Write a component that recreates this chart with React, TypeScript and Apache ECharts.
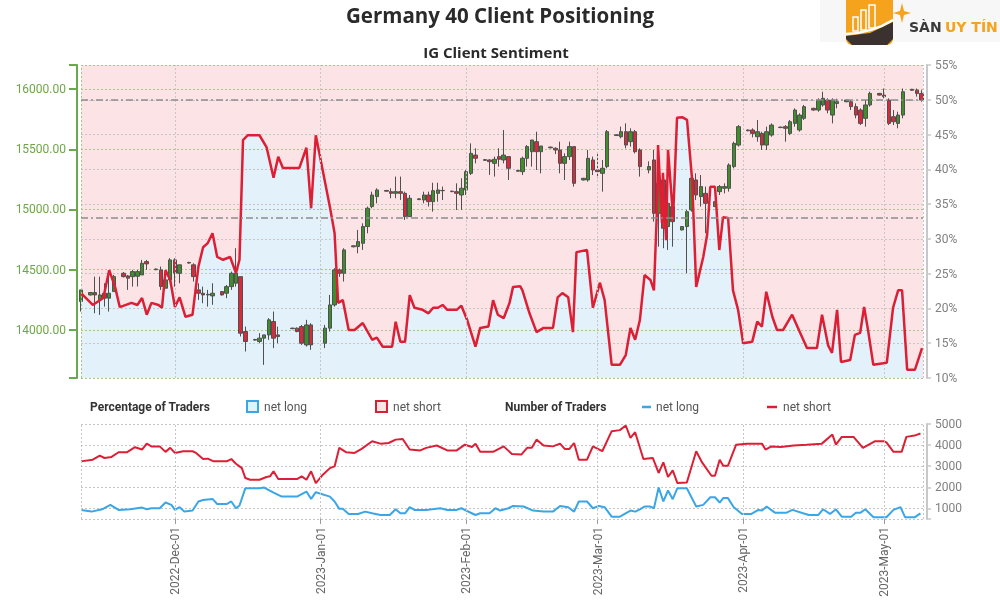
import React, { useEffect, useRef } from 'react';
import * as echarts from 'echarts';

const TITLE = 'Germany 40 Client Positioning';
const SUBTITLE = 'IG Client Sentiment';
const X_MIN = '2022-11-11 00:00';
const X_MAX = '2023-05-09 07:00';
const MONTH_TICKS = ['2022-12-01', '2023-01-01', '2023-02-01', '2023-03-01', '2023-04-01', '2023-05-01'];
const MONTHS = ['Jan', 'Feb', 'Mar', 'Apr', 'May', 'Jun', 'Jul', 'Aug', 'Sep', 'Oct', 'Nov', 'Dec'];
const PRICE_MIN = 13600;
const PRICE_MAX = 16200;
const PRICE_TICKS = [14000, 14500, 15000, 15500, 16000];
const PCT_MIN = 10;
const PCT_MAX = 55;
const PCT_STEP = 5;
const PCT_GUIDES = [50, 33.1];
const COUNT_MIN = 500;
const COUNT_MAX = 5000;
const COUNT_TICKS = [1000, 2000, 3000, 4000, 5000];

// [date, open, close, low, high]
const candles: [string, number, number, number, number][] = [
  ['2022-11-11', 14235, 14332, 14152, 14332], ['2022-11-13', 14290, 14310, 14285, 14315],
  ['2022-11-14', 14310, 14290, 14138, 14442], ['2022-11-15', 14250, 14290, 14124, 14442],
  ['2022-11-16', 14304, 14263, 14193, 14387], ['2022-11-17', 14263, 14304, 14152, 14442],
  ['2022-11-18', 14318, 14442, 14318, 14456], ['2022-11-20', 14470, 14442, 14435, 14480],
  ['2022-11-21', 14448, 14429, 14332, 14456], ['2022-11-22', 14442, 14484, 14359, 14498],
  ['2022-11-23', 14445, 14484, 14360, 14498], ['2022-11-24', 14456, 14553, 14456, 14581],
  ['2022-11-25', 14567, 14548, 14498, 14581], ['2022-11-27', 14505, 14500, 14495, 14510],
  ['2022-11-28', 14498, 14360, 14332, 14526], ['2022-11-29', 14346, 14415, 14346, 14470],
  ['2022-11-30', 14415, 14581, 14401, 14595], ['2022-12-01', 14581, 14470, 14359, 14595],
  ['2022-12-02', 14470, 14540, 14387, 14540], ['2022-12-04', 14560, 14555, 14550, 14565],
  ['2022-12-05', 14540, 14442, 14401, 14553], ['2022-12-06', 14332, 14304, 14249, 14387],
  ['2022-12-07', 14304, 14290, 14221, 14359], ['2022-12-08', 14290, 14295, 14193, 14332],
  ['2022-12-09', 14282, 14304, 14208, 14387], ['2022-12-11', 14318, 14290, 14285, 14322],
  ['2022-12-12', 14304, 14359, 14263, 14373], ['2022-12-13', 14359, 14470, 14332, 14484],
  ['2022-12-14', 14387, 14470, 14359, 14678], ['2022-12-15', 14442, 13972, 13945, 14442],
  ['2022-12-16', 13986, 13903, 13820, 14027], ['2022-12-18', 13920, 13915, 13910, 13925],
  ['2022-12-19', 13903, 13931, 13889, 13972], ['2022-12-20', 13931, 13958, 13709, 13958],
  ['2022-12-21', 13958, 14083, 13917, 14097], ['2022-12-22', 14069, 13931, 13848, 14152],
  ['2022-12-23', 13958, 13944, 13889, 14027], ['2022-12-26', 14014, 14010, 14005, 14018],
  ['2022-12-27', 14014, 13986, 13980, 14020], ['2022-12-28', 14027, 13889, 13875, 14041],
  ['2022-12-29', 13875, 14041, 13861, 14083], ['2022-12-30', 14041, 13875, 13834, 14055],
  ['2023-01-02', 13889, 14014, 13848, 14041], ['2023-01-03', 14014, 14207, 13986, 14290],
  ['2023-01-04', 14207, 14498, 14193, 14512], ['2023-01-05', 14498, 14470, 14440, 14510],
  ['2023-01-06', 14470, 14664, 14401, 14678], ['2023-01-08', 14698, 14690, 14685, 14702],
  ['2023-01-09', 14692, 14733, 14636, 14830], ['2023-01-10', 14719, 14858, 14664, 14885],
  ['2023-01-11', 14858, 15010, 14802, 15024], ['2023-01-12', 15024, 15120, 15010, 15148],
  ['2023-01-13', 15107, 15162, 15051, 15176], ['2023-01-15', 15158, 15152, 15148, 15162],
  ['2023-01-16', 15148, 15134, 15093, 15176], ['2023-01-17', 15134, 15148, 15093, 15273],
  ['2023-01-18', 15148, 15134, 15079, 15273], ['2023-01-19', 15134, 14941, 14913, 15148],
  ['2023-01-20', 14941, 15093, 14941, 15120], ['2023-01-22', 15088, 15082, 15078, 15092],
  ['2023-01-23', 15079, 15120, 15051, 15148], ['2023-01-24', 15120, 15065, 15024, 15148],
  ['2023-01-25', 15065, 15156, 14982, 15222], ['2023-01-26', 15134, 15162, 15065, 15222],
  ['2023-01-27', 15156, 15158, 15079, 15190], ['2023-01-29', 15152, 15148, 15144, 15156],
  ['2023-01-30', 15148, 15134, 14996, 15217], ['2023-01-31', 15120, 15176, 14996, 15259],
  ['2023-02-01', 15162, 15314, 15120, 15328], ['2023-02-02', 15300, 15466, 15286, 15549],
  ['2023-02-03', 15452, 15425, 15383, 15508], ['2023-02-05', 15414, 15408, 15404, 15418],
  ['2023-02-06', 15411, 15397, 15287, 15417], ['2023-02-07', 15383, 15417, 15273, 15439],
  ['2023-02-08', 15439, 15417, 15356, 15508], ['2023-02-09', 15411, 15452, 15383, 15660],
  ['2023-02-10', 15439, 15342, 15245, 15439], ['2023-02-12', 15324, 15318, 15314, 15328],
  ['2023-02-13', 15314, 15425, 15286, 15439], ['2023-02-14', 15425, 15522, 15356, 15535],
  ['2023-02-15', 15480, 15577, 15356, 15577], ['2023-02-16', 15563, 15480, 15328, 15646],
  ['2023-02-17', 15480, 15527, 15300, 15527], ['2023-02-19', 15518, 15512, 15508, 15522],
  ['2023-02-20', 15508, 15494, 15460, 15516], ['2023-02-21', 15494, 15383, 15300, 15563],
  ['2023-02-22', 15383, 15439, 15245, 15466], ['2023-02-23', 15439, 15522, 15411, 15563],
  ['2023-02-24', 15522, 15217, 15190, 15522], ['2023-02-26', 15245, 15259, 15240, 15262],
  ['2023-02-27', 15245, 15425, 15231, 15494], ['2023-02-28', 15411, 15328, 15286, 15439],
  ['2023-03-01', 15328, 15314, 15259, 15466], ['2023-03-02', 15300, 15342, 15148, 15411],
  ['2023-03-03', 15356, 15646, 15342, 15660], ['2023-03-05', 15620, 15614, 15610, 15624],
  ['2023-03-06', 15604, 15646, 15591, 15688], ['2023-03-07', 15646, 15535, 15508, 15715],
  ['2023-03-08', 15563, 15646, 15522, 15674], ['2023-03-09', 15646, 15480, 15466, 15660],
  ['2023-03-10', 15494, 15356, 15273, 15508], ['2023-03-12', 15328, 15356, 15300, 15400],
  ['2023-03-13', 15411, 14968, 14899, 15494], ['2023-03-14', 14968, 15217, 14691, 15273],
  ['2023-03-15', 15245, 14844, 14678, 15259], ['2023-03-16', 14858, 15051, 14664, 15065],
  ['2023-03-17', 15024, 14899, 14691, 15051], ['2023-03-19', 14830, 14858, 14825, 14862],
  ['2023-03-20', 14858, 14982, 14470, 14996], ['2023-03-21', 14996, 15259, 14982, 15300],
  ['2023-03-22', 15245, 15120, 15079, 15300], ['2023-03-23', 15107, 15190, 15024, 15286],
  ['2023-03-24', 15134, 15051, 14802, 15190], ['2023-03-26', 15024, 15065, 15020, 15068],
  ['2023-03-27', 15148, 15190, 15120, 15203], ['2023-03-28', 15176, 15190, 15134, 15217],
  ['2023-03-29', 15176, 15369, 15148, 15383], ['2023-03-30', 15356, 15549, 15342, 15563],
  ['2023-03-31', 15535, 15688, 15522, 15701], ['2023-04-02', 15660, 15654, 15650, 15664],
  ['2023-04-03', 15660, 15632, 15599, 15674], ['2023-04-04', 15604, 15646, 15563, 15743],
  ['2023-04-05', 15632, 15535, 15494, 15646], ['2023-04-06', 15535, 15646, 15494, 15688],
  ['2023-04-07', 15618, 15701, 15604, 15715], ['2023-04-09', 15684, 15680, 15676, 15688],
  ['2023-04-10', 15688, 15674, 15563, 15701], ['2023-04-11', 15632, 15729, 15618, 15743],
  ['2023-04-12', 15715, 15826, 15688, 15840], ['2023-04-13', 15660, 15784, 15646, 15799],
  ['2023-04-14', 15757, 15854, 15743, 15868], ['2023-04-16', 15840, 15826, 15820, 15845],
  ['2023-04-17', 15826, 15909, 15812, 15923], ['2023-04-18', 15868, 15923, 15854, 15978],
  ['2023-04-19', 15909, 15826, 15799, 15923], ['2023-04-20', 15784, 15909, 15715, 15923],
  ['2023-04-21', 15880, 15895, 15840, 15920], ['2023-04-23', 15895, 15909, 15890, 15912],
  ['2023-04-24', 15895, 15854, 15826, 15909], ['2023-04-25', 15854, 15784, 15757, 15881],
  ['2023-04-26', 15826, 15715, 15701, 15840], ['2023-04-27', 15757, 15868, 15688, 15909],
  ['2023-04-28', 15868, 15964, 15854, 15978], ['2023-04-30', 15964, 15950, 15946, 15968],
  ['2023-05-01', 15950, 15937, 15923, 16005], ['2023-05-02', 15909, 15715, 15701, 15923],
  ['2023-05-03', 15770, 15729, 15701, 15826], ['2023-05-04', 15715, 15784, 15674, 15812],
  ['2023-05-05', 15784, 15978, 15757, 16005], ['2023-05-07', 15998, 15990, 15986, 16002],
  ['2023-05-08', 15991, 15964, 15937, 16005], ['2023-05-09', 15964, 15909, 15895, 15991],
];

// % of traders net long
const pctLong: [string, number][] = [
  ['2022-11-11 00:00', 22.2], ['2022-11-13 12:00', 20.5], ['2022-11-15 18:00', 21.5], ['2022-11-17 00:00', 25.5],
  ['2022-11-18 06:00', 23.1], ['2022-11-19 06:00', 20.2], ['2022-11-21 18:00', 20.8], ['2022-11-23 00:00', 20.5],
  ['2022-11-24 00:00', 21.5], ['2022-11-25 00:00', 19.1], ['2022-11-26 00:00', 20.8], ['2022-11-27 12:00', 20.5],
  ['2022-11-28 06:00', 20.1], ['2022-11-29 00:00', 25.5], ['2022-11-30 00:00', 24.1], ['2022-12-01 00:00', 20.2],
  ['2022-12-02 00:00', 21.6], ['2022-12-03 06:00', 18.8], ['2022-12-04 18:00', 19.1], ['2022-12-06 00:00', 26.0],
  ['2022-12-07 00:00', 28.8], ['2022-12-08 00:00', 29.4], ['2022-12-09 00:00', 30.8], ['2022-12-10 00:00', 27.4],
  ['2022-12-11 06:00', 27.0], ['2022-12-12 18:00', 27.4], ['2022-12-14 00:00', 25.1], ['2022-12-14 18:00', 27.0],
  ['2022-12-15 12:00', 44.2], ['2022-12-16 12:00', 44.9], ['2022-12-19 00:00', 44.9], ['2022-12-20 12:00', 43.2],
  ['2022-12-22 00:00', 38.8], ['2022-12-23 00:00', 41.8], ['2022-12-24 00:00', 40.2], ['2022-12-27 12:00', 40.2],
  ['2022-12-29 00:00', 43.1], ['2022-12-30 00:00', 34.4], ['2022-12-31 00:00', 44.9], ['2023-01-03 00:00', 34.6],
  ['2023-01-04 00:00', 30.8], ['2023-01-04 18:00', 20.8], ['2023-01-05 18:00', 21.2], ['2023-01-07 00:00', 16.9],
  ['2023-01-08 06:00', 16.9], ['2023-01-10 00:00', 17.9], ['2023-01-12 00:00', 15.5], ['2023-01-13 00:00', 15.8],
  ['2023-01-14 06:00', 14.5], ['2023-01-16 06:00', 14.5], ['2023-01-17 00:00', 18.1], ['2023-01-18 00:00', 15.2],
  ['2023-01-19 00:00', 15.2], ['2023-01-20 00:00', 21.9], ['2023-01-21 00:00', 20.1], ['2023-01-22 18:00', 19.8],
  ['2023-01-24 00:00', 19.3], ['2023-01-25 00:00', 20.1], ['2023-01-26 00:00', 20.1], ['2023-01-27 00:00', 20.5],
  ['2023-01-28 00:00', 19.8], ['2023-01-30 00:00', 19.8], ['2023-01-31 00:00', 20.4], ['2023-02-01 06:00', 18.3],
  ['2023-02-03 00:00', 14.5], ['2023-02-04 00:00', 17.2], ['2023-02-05 18:00', 17.4], ['2023-02-06 18:00', 21.2],
  ['2023-02-07 18:00', 19.1], ['2023-02-09 00:00', 18.6], ['2023-02-10 06:00', 20.8], ['2023-02-11 00:00', 23.1],
  ['2023-02-12 12:00', 23.2], ['2023-02-13 00:00', 22.6], ['2023-02-14 12:00', 19.3], ['2023-02-16 00:00', 16.6],
  ['2023-02-17 12:00', 17.2], ['2023-02-19 12:00', 17.2], ['2023-02-20 12:00', 21.6], ['2023-02-21 12:00', 22.2],
  ['2023-02-22 18:00', 21.6], ['2023-02-23 18:00', 16.6], ['2023-02-24 12:00', 28.1], ['2023-02-26 18:00', 28.4],
  ['2023-02-28 00:00', 20.1], ['2023-03-01 12:00', 23.7], ['2023-03-02 12:00', 21.2], ['2023-03-04 00:00', 11.9],
  ['2023-03-05 18:00', 11.9], ['2023-03-07 00:00', 13.3], ['2023-03-08 00:00', 17.2], ['2023-03-09 00:00', 15.5],
  ['2023-03-10 00:00', 18.3], ['2023-03-11 00:00', 24.8], ['2023-03-12 06:00', 24.1], ['2023-03-13 00:00', 22.6],
  ['2023-03-13 16:00', 34.6], ['2023-03-13 21:00', 43.5], ['2023-03-14 17:00', 32.3], ['2023-03-14 22:00', 39.5],
  ['2023-03-15 14:00', 29.8], ['2023-03-16 00:00', 42.8], ['2023-03-17 02:00', 33.1], ['2023-03-17 22:00', 47.4],
  ['2023-03-19 00:00', 47.5], ['2023-03-20 01:00', 47.1], ['2023-03-21 03:00', 38.5], ['2023-03-22 00:00', 23.1],
  ['2023-03-23 12:00', 27.4], ['2023-03-24 08:00', 30.6], ['2023-03-25 00:00', 37.5], ['2023-03-26 00:00', 37.5],
  ['2023-03-26 22:00', 28.4], ['2023-03-27 17:00', 33.1], ['2023-03-28 19:00', 33.0], ['2023-03-29 20:00', 22.6],
  ['2023-03-30 22:00', 19.8], ['2023-04-01 00:00', 15.0], ['2023-04-02 22:00', 15.2], ['2023-04-04 00:00', 18.1],
  ['2023-04-05 00:00', 17.4], ['2023-04-05 22:00', 22.4], ['2023-04-07 05:00', 18.8], ['2023-04-08 05:00', 16.9],
  ['2023-04-09 12:00', 16.9], ['2023-04-11 10:00', 19.1], ['2023-04-13 03:00', 16.5], ['2023-04-14 14:00', 14.3],
  ['2023-04-16 17:00', 14.3], ['2023-04-17 19:00', 19.1], ['2023-04-19 02:00', 14.7], ['2023-04-19 22:00', 13.6],
  ['2023-04-21 00:00', 19.8], ['2023-04-21 20:00', 12.3], ['2023-04-23 19:00', 12.6], ['2023-04-24 19:00', 16.2],
  ['2023-04-25 22:00', 16.5], ['2023-04-26 18:00', 20.2], ['2023-04-27 14:00', 16.9], ['2023-04-28 17:00', 11.9],
  ['2023-05-01 14:00', 12.2], ['2023-05-02 22:00', 20.1], ['2023-05-04 00:00', 22.6], ['2023-05-04 20:00', 22.6],
  ['2023-05-05 22:00', 11.2], ['2023-05-07 14:00', 11.2], ['2023-05-09 02:00', 14.3],
];

// number of traders net short
const countShort: [string, number][] = [
  ['2022-11-11 00:00', 3230], ['2022-11-13 12:00', 3310], ['2022-11-15 00:00', 3500], ['2022-11-16 00:00', 3390],
  ['2022-11-17 12:00', 3440], ['2022-11-19 00:00', 3660], ['2022-11-20 18:00', 3660], ['2022-11-22 12:00', 3900],
  ['2022-11-24 00:00', 3790], ['2022-11-25 00:00', 4070], ['2022-11-26 00:00', 3940], ['2022-11-27 18:00', 3940],
  ['2022-11-29 00:00', 3680], ['2022-11-30 00:00', 3870], ['2022-12-01 00:00', 3630], ['2022-12-02 18:00', 3710],
  ['2022-12-04 18:00', 3710], ['2022-12-05 12:00', 3630], ['2022-12-07 00:00', 3340], ['2022-12-08 00:00', 3360],
  ['2022-12-09 06:00', 3230], ['2022-12-12 00:00', 3230], ['2022-12-13 00:00', 3340], ['2022-12-14 00:00', 3120],
  ['2022-12-15 06:00', 2910], ['2022-12-16 00:00', 2440], ['2022-12-17 00:00', 2360], ['2022-12-19 00:00', 2360],
  ['2022-12-20 12:00', 2490], ['2022-12-21 06:00', 2520], ['2022-12-22 00:00', 2760], ['2022-12-23 00:00', 2390],
  ['2022-12-27 00:00', 2390], ['2022-12-28 00:00', 2520], ['2022-12-29 00:00', 2360], ['2022-12-30 00:00', 2760],
  ['2022-12-31 00:00', 2200], ['2023-01-01 12:00', 2600], ['2023-01-03 00:00', 2910], ['2023-01-04 00:00', 2990],
  ['2023-01-05 00:00', 3870], ['2023-01-06 12:00', 3660], ['2023-01-08 06:00', 3630], ['2023-01-09 18:00', 3820],
  ['2023-01-12 00:00', 4180], ['2023-01-13 18:00', 4070], ['2023-01-15 12:00', 4100], ['2023-01-17 00:00', 4260],
  ['2023-01-18 12:00', 4290], ['2023-01-20 00:00', 3790], ['2023-01-22 06:00', 3750], ['2023-01-23 12:00', 3870],
  ['2023-01-25 18:00', 3980], ['2023-01-28 00:00', 3750], ['2023-01-30 00:00', 3750], ['2023-01-31 18:00', 4020],
  ['2023-02-02 06:00', 3910], ['2023-02-03 00:00', 4060], ['2023-02-04 00:00', 3680], ['2023-02-06 18:00', 3680],
  ['2023-02-09 00:00', 3940], ['2023-02-10 18:00', 3580], ['2023-02-12 18:00', 3550], ['2023-02-14 00:00', 3870],
  ['2023-02-15 00:00', 3870], ['2023-02-16 00:00', 4260], ['2023-02-17 12:00', 3980], ['2023-02-19 12:00', 3940],
  ['2023-02-21 00:00', 4070], ['2023-02-22 00:00', 3820], ['2023-02-23 00:00', 3820], ['2023-02-24 00:00', 4100],
  ['2023-02-25 00:00', 3310], ['2023-02-26 18:00', 3310], ['2023-02-28 00:00', 3940], ['2023-03-02 00:00', 3710],
  ['2023-03-04 00:00', 4660], ['2023-03-05 18:00', 4710], ['2023-03-07 00:00', 4930], ['2023-03-08 00:00', 4340],
  ['2023-03-09 00:00', 4610], ['2023-03-10 18:00', 3340], ['2023-03-12 18:00', 3390], ['2023-03-14 00:00', 2680],
  ['2023-03-15 00:00', 3180], ['2023-03-16 00:00', 2490], ['2023-03-17 00:00', 2800], ['2023-03-18 00:00', 2200],
  ['2023-03-20 00:00', 2230], ['2023-03-22 00:00', 3710], ['2023-03-23 06:00', 3180], ['2023-03-25 06:00', 2550],
  ['2023-03-26 00:00', 2550], ['2023-03-27 00:00', 3310], ['2023-03-27 18:00', 3020], ['2023-03-28 18:00', 3020],
  ['2023-03-30 12:00', 4020], ['2023-04-01 18:00', 4070], ['2023-04-05 00:00', 4070], ['2023-04-05 18:00', 3790],
  ['2023-04-07 00:00', 3940], ['2023-04-09 00:00', 3910], ['2023-04-11 18:00', 3980], ['2023-04-14 12:00', 4020],
  ['2023-04-17 18:00', 4070], ['2023-04-20 00:00', 4500], ['2023-04-20 18:00', 4020], ['2023-04-22 00:00', 4390],
  ['2023-04-24 12:00', 4390], ['2023-04-26 12:00', 3870], ['2023-04-29 00:00', 4180], ['2023-05-01 00:00', 4180],
  ['2023-05-01 12:00', 4130], ['2023-05-03 00:00', 3680], ['2023-05-04 18:00', 3680], ['2023-05-05 18:00', 4390],
  ['2023-05-07 12:00', 4450], ['2023-05-08 18:00', 4550],
];

// number of traders net long
const countLong: [string, number][] = [
  ['2022-11-11 00:00', 930], ['2022-11-13 06:00', 850], ['2022-11-15 12:00', 960], ['2022-11-17 06:00', 1170],
  ['2022-11-19 00:00', 930], ['2022-11-21 12:00', 960], ['2022-11-24 00:00', 1040], ['2022-11-25 00:00', 960],
  ['2022-11-26 00:00', 1010], ['2022-11-27 18:00', 1010], ['2022-11-29 00:00', 1280], ['2022-11-30 06:00', 1170],
  ['2022-12-01 00:00', 930], ['2022-12-02 00:00', 1060], ['2022-12-03 00:00', 850], ['2022-12-04 18:00', 900],
  ['2022-12-06 00:00', 1330], ['2022-12-07 00:00', 1400], ['2022-12-09 00:00', 1450], ['2022-12-10 00:00', 1210],
  ['2022-12-12 00:00', 1210], ['2022-12-13 00:00', 1330], ['2022-12-14 00:00', 1010], ['2022-12-14 18:00', 1140],
  ['2022-12-16 00:00', 1960], ['2022-12-19 00:00', 1960], ['2022-12-20 00:00', 1990], ['2022-12-22 00:00', 1750],
  ['2022-12-23 18:00', 1560], ['2022-12-27 00:00', 1560], ['2022-12-29 00:00', 1800], ['2022-12-30 00:00', 1450],
  ['2022-12-31 00:00', 1770], ['2023-01-03 00:00', 1560], ['2023-01-04 00:00', 1330], ['2023-01-05 00:00', 980],
  ['2023-01-05 18:00', 980], ['2023-01-07 00:00', 740], ['2023-01-09 00:00', 740], ['2023-01-10 12:00', 850],
  ['2023-01-12 00:00', 770], ['2023-01-13 18:00', 690], ['2023-01-15 18:00', 690], ['2023-01-17 00:00', 960],
  ['2023-01-18 00:00', 770], ['2023-01-19 00:00', 770], ['2023-01-20 00:00', 1060], ['2023-01-21 00:00', 930],
  ['2023-01-23 12:00', 930], ['2023-01-26 12:00', 1010], ['2023-01-28 00:00', 930], ['2023-01-30 00:00', 930],
  ['2023-01-31 00:00', 1010], ['2023-02-03 00:00', 690], ['2023-02-04 00:00', 770], ['2023-02-06 00:00', 770],
  ['2023-02-07 06:00', 1010], ['2023-02-08 06:00', 900], ['2023-02-10 00:00', 1010], ['2023-02-11 00:00', 1120],
  ['2023-02-13 06:00', 1090], ['2023-02-15 06:00', 900], ['2023-02-17 12:00', 850], ['2023-02-19 12:00', 850],
  ['2023-02-21 00:00', 1120], ['2023-02-22 18:00', 1060], ['2023-02-24 00:00', 850], ['2023-02-25 00:00', 1330],
  ['2023-02-26 18:00', 1330], ['2023-02-28 00:00', 1010], ['2023-03-01 06:00', 1120], ['2023-03-02 12:00', 1060],
  ['2023-03-04 00:00', 610], ['2023-03-05 18:00', 610], ['2023-03-08 00:00', 900], ['2023-03-09 00:00', 850],
  ['2023-03-10 00:00', 960], ['2023-03-11 00:00', 1090], ['2023-03-12 06:00', 1090], ['2023-03-13 00:00', 1010],
  ['2023-03-14 00:00', 1990], ['2023-03-15 00:00', 1330], ['2023-03-16 00:00', 1850], ['2023-03-17 00:00', 1440],
  ['2023-03-18 00:00', 1960], ['2023-03-20 00:00', 1960], ['2023-03-22 00:00', 1090], ['2023-03-23 12:00', 1170],
  ['2023-03-25 00:00', 1530], ['2023-03-26 00:00', 1530], ['2023-03-27 00:00', 1280], ['2023-03-27 18:00', 1490],
  ['2023-03-28 18:00', 1490], ['2023-03-30 00:00', 1060], ['2023-03-31 18:00', 740], ['2023-04-02 18:00', 740],
  ['2023-04-04 06:00', 930], ['2023-04-05 00:00', 900], ['2023-04-06 00:00', 1090], ['2023-04-07 18:00', 800],
  ['2023-04-10 06:00', 800], ['2023-04-11 12:00', 930], ['2023-04-13 18:00', 770], ['2023-04-15 00:00', 690],
  ['2023-04-17 00:00', 690], ['2023-04-18 00:00', 960], ['2023-04-19 12:00', 740], ['2023-04-20 18:00', 960],
  ['2023-04-22 00:00', 610], ['2023-04-24 00:00', 610], ['2023-04-25 00:00', 800], ['2023-04-26 00:00', 800],
  ['2023-04-27 00:00', 960], ['2023-04-28 18:00', 580], ['2023-05-01 12:00', 580], ['2023-05-03 00:00', 930],
  ['2023-05-04 12:00', 1060], ['2023-05-05 12:00', 580], ['2023-05-07 12:00', 580], ['2023-05-08 18:00', 770],
];

const ts = (s: string): number => {
  const [d, t] = s.split(' ');
  const [y, m, dd] = d.split('-').map(Number);
  const [h, mi] = (t || '00:00').split(':').map(Number);
  return new Date(y, m - 1, dd, h, mi).getTime();
};

const fmtDate = (v: number) => {
  const d = new Date(v);
  return `${d.getFullYear()}-${MONTHS[d.getMonth()]}-${String(d.getDate()).padStart(2, '0')}`;
};

const C_RED = '#dc1f35';
const C_BLUE = '#3aa6e6';
const C_PINK = '#fce4e6';
const C_LIGHTBLUE = '#e3f1fb';
const C_GREEN_AXIS = '#6aa84f';
const C_GRID_GREEN = '#a9c48c';
const C_GRID_GRAY = '#c6c6c6';

export default function App() {
  const ref = useRef<HTMLDivElement>(null);

  useEffect(() => {
    if (!ref.current) return;
    const chart = echarts.init(ref.current, undefined, { renderer: 'svg' });
    const tMin = ts(X_MIN);
    const tMax = ts(X_MAX);
    const monthTs = MONTH_TICKS.map(ts);

    const vLines = (edgeColor: string) => [
      ...monthTs.map((v) => ({ xAxis: v })),
      { xAxis: tMin, lineStyle: { color: edgeColor } },
      { xAxis: tMax, lineStyle: { color: C_GRID_GRAY } },
    ];

    const option: any = {
      animation: false,
      textStyle: { fontFamily: 'Roboto' },
      grid: [
        { left: 81, right: 77, top: 65, height: 313, show: true, backgroundColor: C_PINK, borderWidth: 0 },
        { left: 81, right: 77, top: 424, height: 95, show: false },
      ],
      xAxis: [
        {
          type: 'value', gridIndex: 0, min: tMin, max: tMax,
          axisLine: { show: false }, axisTick: { show: false }, axisLabel: { show: false }, splitLine: { show: false },
        },
        {
          type: 'value', gridIndex: 1, min: tMin, max: tMax,
          axisLine: { show: false },
          axisTick: { show: true, length: 5, lineStyle: { color: '#9a9a9a' }, customValues: monthTs },
          axisLabel: { rotate: 90, margin: 8, color: '#666', fontSize: 12, customValues: monthTs, formatter: fmtDate },
          splitLine: { show: false },
        },
      ],
      yAxis: [
        {
          type: 'value', gridIndex: 0, position: 'left', offset: 4, min: PRICE_MIN, max: PRICE_MAX, z: 2,
          axisLine: { show: true, lineStyle: { color: C_GREEN_AXIS, width: 2 } },
          axisTick: {
            show: true, length: 8, lineStyle: { color: C_GREEN_AXIS, width: 2 },
            customValues: [PRICE_MIN, ...PRICE_TICKS, PRICE_MAX],
          },
          axisLabel: {
            customValues: PRICE_TICKS, formatter: (v: number) => v.toFixed(2),
            color: '#6ea648', fontSize: 12, margin: 11,
          },
          splitLine: { show: true, lineStyle: { color: C_GRID_GREEN, type: [2, 2], width: 1 } },
        },
        {
          type: 'value', gridIndex: 0, position: 'right', offset: 4, min: PCT_MIN, max: PCT_MAX, interval: PCT_STEP, z: 2,
          axisLine: { show: true, lineStyle: { color: '#c8c8c8', width: 2 } },
          axisTick: { show: true, length: 4, lineStyle: { color: '#c8c8c8', width: 1.5 } },
          axisLabel: { formatter: '{value}%', color: '#808080', fontSize: 12, margin: 8 },
          splitLine: { show: true, showMinLine: false, showMaxLine: false, lineStyle: { color: C_GRID_GRAY, type: [2, 2], width: 1 } },
        },
        {
          type: 'value', gridIndex: 1, position: 'right', offset: 4, min: COUNT_MIN, max: COUNT_MAX, z: 2,
          axisLine: { show: true, lineStyle: { color: '#c8c8c8', width: 2 } },
          axisTick: { show: true, length: 4, lineStyle: { color: '#c8c8c8', width: 1.5 }, customValues: [COUNT_MIN, ...COUNT_TICKS] },
          axisLabel: { customValues: COUNT_TICKS, formatter: (v: number) => String(v), color: '#808080', fontSize: 12, margin: 8 },
          splitLine: { show: true, lineStyle: { color: C_GRID_GRAY, type: [2, 2], width: 1 } },
        },
      ],
      series: [
        {
          name: 'area', type: 'line', xAxisIndex: 0, yAxisIndex: 1, z: 1, silent: true,
          data: pctLong.map(([d, v]) => [ts(d), v]),
          symbol: 'none', lineStyle: { width: 0 },
          areaStyle: { color: C_LIGHTBLUE, opacity: 1, origin: 'start' },
        },
        {
          name: 'guides', type: 'line', xAxisIndex: 0, yAxisIndex: 1, z: 2, silent: true,
          data: [[tMin, PCT_MIN]], symbol: 'none', lineStyle: { width: 0 },
          markLine: {
            silent: true, symbol: 'none', label: { show: false }, animation: false,
            lineStyle: { color: C_GRID_GRAY, type: [2, 2], width: 1 },
            data: [
              ...vLines(C_GRID_GREEN),
              ...PCT_GUIDES.map((v) => ({ yAxis: v, lineStyle: { color: '#8c8c8c', type: [7, 3, 2, 3], width: 1.5 } })),
            ],
          },
        },
        {
          name: 'price', type: 'candlestick', xAxisIndex: 0, yAxisIndex: 0, z: 3,
          data: candles.map(([d, o, c, l, h]) => [ts(d), o, c, l, h]),
          encode: { x: 0, y: [1, 2, 3, 4] },
          barWidth: 4,
          itemStyle: { color: '#3e8e2b', color0: '#d92a3b', borderColor: '#505050', borderColor0: '#505050', borderWidth: 1 },
        },
        {
          name: 'pct long', type: 'line', xAxisIndex: 0, yAxisIndex: 1, z: 4,
          data: pctLong.map(([d, v]) => [ts(d), v]),
          symbol: 'none', lineStyle: { color: C_RED, width: 2.5 },
        },
        {
          name: 'guides2', type: 'line', xAxisIndex: 1, yAxisIndex: 2, z: 2, silent: true,
          data: [[tMin, COUNT_MIN]], symbol: 'none', lineStyle: { width: 0 },
          markLine: {
            silent: true, symbol: 'none', label: { show: false }, animation: false,
            lineStyle: { color: C_GRID_GRAY, type: [2, 2], width: 1 },
            data: vLines(C_GRID_GRAY),
          },
        },
        {
          name: 'count short', type: 'line', xAxisIndex: 1, yAxisIndex: 2, z: 4,
          data: countShort.map(([d, v]) => [ts(d), v]),
          symbol: 'none', lineStyle: { color: C_RED, width: 2 },
        },
        {
          name: 'count long', type: 'line', xAxisIndex: 1, yAxisIndex: 2, z: 4,
          data: countLong.map(([d, v]) => [ts(d), v]),
          symbol: 'none', lineStyle: { color: C_BLUE, width: 2 },
        },
      ],
      graphic: [
        { type: 'text', x: 500, y: 15, style: { text: TITLE, fontFamily: 'Open Sans', fontWeight: 'bold', fontSize: 20.5, fill: '#2a2a2a', align: 'center', verticalAlign: 'middle' } },
        { type: 'text', x: 496, y: 52, style: { text: SUBTITLE, fontFamily: 'Open Sans', fontWeight: 'bold', fontSize: 15, fill: '#2a2a2a', align: 'center', verticalAlign: 'middle' } },
        { type: 'text', x: 90, y: 407, style: { text: 'Percentage of Traders', fontFamily: 'Roboto', fontWeight: 'bold', fontSize: 12, fill: '#333', verticalAlign: 'middle' } },
        { type: 'rect', shape: { x: 247, y: 401, width: 11, height: 11 }, style: { fill: C_LIGHTBLUE, stroke: C_BLUE, lineWidth: 2 } },
        { type: 'text', x: 264, y: 407, style: { text: 'net long', fontFamily: 'Roboto', fontSize: 12, fill: '#555', verticalAlign: 'middle' } },
        { type: 'rect', shape: { x: 376, y: 401, width: 11, height: 11 }, style: { fill: C_PINK, stroke: C_RED, lineWidth: 2 } },
        { type: 'text', x: 393, y: 407, style: { text: 'net short', fontFamily: 'Roboto', fontSize: 12, fill: '#555', verticalAlign: 'middle' } },
        { type: 'text', x: 505, y: 407, style: { text: 'Number of Traders', fontFamily: 'Roboto', fontWeight: 'bold', fontSize: 12, fill: '#333', verticalAlign: 'middle' } },
        { type: 'line', shape: { x1: 642, y1: 407, x2: 651, y2: 407 }, style: { stroke: C_BLUE, lineWidth: 2.5 } },
        { type: 'text', x: 656, y: 407, style: { text: 'net long', fontFamily: 'Roboto', fontSize: 12, fill: '#555', verticalAlign: 'middle' } },
        { type: 'line', shape: { x1: 767, y1: 407, x2: 777, y2: 407 }, style: { stroke: C_RED, lineWidth: 2.5 } },
        { type: 'text', x: 783, y: 407, style: { text: 'net short', fontFamily: 'Roboto', fontSize: 12, fill: '#555', verticalAlign: 'middle' } },
        { type: 'rect', shape: { x: 820, y: 0, width: 180, height: 42 }, style: { fill: '#f7f7f7' } },
        { type: 'rect', shape: { x: 846, y: -6, width: 47, height: 51, r: 6 }, style: { fill: '#f5a21c' } },
        { type: 'polygon', shape: { points: [[846, 36], [870, 33], [893, 22], [893, 39], [887, 45], [852, 45], [846, 39]] }, style: { fill: '#3b3230' } },
        { type: 'bezierCurve', shape: { x1: 846, y1: 34, cpx1: 872, cpy1: 33, x2: 893, y2: 20 }, style: { stroke: '#ffffff', lineWidth: 2.5, fill: 'none' } },
        { type: 'rect', shape: { x: 853, y: 17, width: 5, height: 14 }, style: { fill: 'none', stroke: '#fff', lineWidth: 1.5 } },
        { type: 'rect', shape: { x: 861, y: 10, width: 5, height: 20 }, style: { fill: 'none', stroke: '#fff', lineWidth: 1.5 } },
        { type: 'rect', shape: { x: 869, y: 5, width: 6, height: 23 }, style: { fill: 'none', stroke: '#fff', lineWidth: 1.5 } },
        { type: 'polygon', shape: { points: [[902, 3], [904, 11], [911, 13], [904, 15], [902, 23], [900, 15], [893, 13], [900, 11]] }, style: { fill: '#f5a21c' } },
        {
          type: 'text', x: 909, y: 27,
          style: {
            text: '{a|SÀN} {b|UY TÍN}', verticalAlign: 'middle',
            rich: {
              a: { fontFamily: 'DejaVu Sans', fontWeight: 'bold', fontSize: 14, fill: '#3a3a3a' },
              b: { fontFamily: 'DejaVu Sans', fontWeight: 'bold', fontSize: 14, fill: '#f5a21c' },
            },
          },
        },
      ],
    };

    chart.setOption(option);
    return () => chart.dispose();
  }, []);

  return <div ref={ref} style={{ position: 'fixed', left: 0, top: 0, width: 1000, height: 600 }} />;
}
